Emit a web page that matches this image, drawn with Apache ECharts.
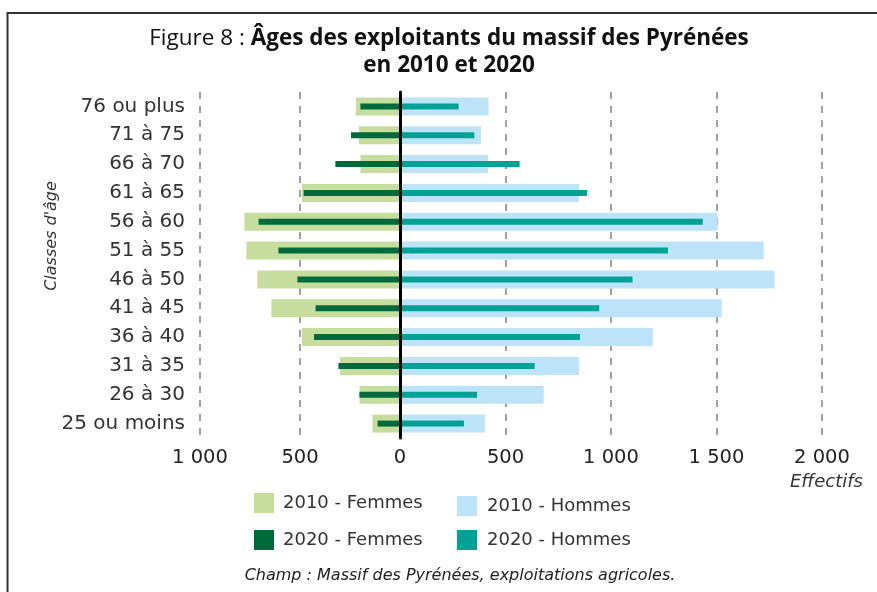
<!DOCTYPE html>
<html>
<head>
<meta charset="utf-8">
<script src="https://cdn.jsdelivr.net/npm/echarts@6/dist/echarts.min.js"></script>
<style>
html,body{margin:0;padding:0;background:#fff;}
#chart{width:877px;height:592px;}
</style>
</head>
<body>
<div id="chart"></div>
<script>
// Data (bottom to top)
const categories = ['25 ou moins','26 à 30','31 à 35','36 à 40','41 à 45','46 à 50','51 à 55','56 à 60','61 à 65','66 à 70','71 à 75','76 ou plus'];
const femmes2010 = [138, 202, 300, 490, 643, 713, 768, 778, 490, 198, 205, 220];
const femmes2020 = [112, 203, 308, 430, 422, 513, 608, 707, 482, 323, 245, 198];
const hommes2010 = [403, 681, 848, 1198, 1525, 1775, 1724, 1505, 848, 417, 384, 420];
const hommes2020 = [303, 365, 638, 853, 944, 1102, 1270, 1435, 887, 567, 352, 278];
const seriesNames = ['2010 - Femmes','2020 - Femmes','2010 - Hommes','2020 - Hommes'];

const FONT = 'DejaVu Sans';
const TFONT = 'Open Sans';
const fmt = v => v >= 1000 ? Math.floor(v/1000) + ' ' + String(v % 1000).padStart(3,'0') : String(v);

const chart = echarts.init(document.getElementById('chart'));
const split = {show:true, lineStyle:{color:'#8a8a8a', width:1.6, type:[7,7]}};
const gridTop = 92, gridH = 346;

chart.setOption({
  animation:false,
  textStyle:{fontFamily:FONT},
  title:{
    left:444, top:20, textAlign:'center',
    text:'{n|Figure 8 : }{b|Âges des exploitants du massif des Pyrénées}\n{b|en 2010 et 2020}',
    textStyle:{
      fontFamily:TFONT, lineHeight:27,
      rich:{
        n:{fontSize:22.5, fontWeight:'normal', color:'#111', fontFamily:TFONT, lineHeight:27},
        b:{fontSize:22.5, fontWeight:'bold', color:'#111', fontFamily:TFONT, lineHeight:27}
      }
    }
  },
  legend:[
    {data:[seriesNames[0], seriesNames[1]], orient:'vertical', left:249, top:488, itemWidth:20, itemHeight:20, itemGap:17, icon:'rect',
     textStyle:{fontSize:18, color:'#333', fontFamily:FONT, padding:[0,0,0,4]}},
    {data:[seriesNames[2], seriesNames[3]], orient:'vertical', left:452, top:491, itemWidth:20, itemHeight:20, itemGap:14, icon:'rect',
     textStyle:{fontSize:18, color:'#333', fontFamily:FONT, padding:[0,0,0,5]}}
  ],
  grid:[
    {left:200, width:200, top:gridTop, height:gridH},
    {left:400, width:422, top:gridTop, height:gridH}
  ],
  xAxis:[
    {gridIndex:0, type:'value', min:0, max:1000, interval:500, inverse:true,
     axisLine:{show:false}, axisTick:{show:false}, splitLine:split,
     axisLabel:{fontSize:19.5, color:'#222', margin:10, formatter:fmt, fontFamily:FONT}},
    {gridIndex:1, type:'value', min:0, max:2000, interval:500,
     axisLine:{show:false}, axisTick:{show:false}, splitLine:split,
     axisLabel:{fontSize:19.5, color:'#222', margin:10, formatter:v => v === 0 ? '' : fmt(v), fontFamily:FONT}}
  ],
  yAxis:[
    {gridIndex:0, type:'category', data:categories, position:'left',
     axisLine:{show:false}, axisTick:{show:false},
     axisLabel:{fontSize:20, color:'#333', margin:15, fontFamily:FONT, padding:[0,0,14,0]}},
    {gridIndex:0, type:'category', data:categories, show:false},
    {gridIndex:1, type:'category', data:categories, position:'left', z:10,
     axisLine:{show:true, lineStyle:{color:'#000', width:3}}, axisTick:{show:false}, axisLabel:{show:false}},
    {gridIndex:1, type:'category', data:categories, show:false}
  ],
  series:[
    {name:seriesNames[0], type:'bar', xAxisIndex:0, yAxisIndex:0, data:femmes2010, barWidth:18, itemStyle:{color:'#c6dd9e'}},
    {name:seriesNames[1], type:'bar', xAxisIndex:0, yAxisIndex:1, data:femmes2020, barWidth:6, itemStyle:{color:'#006b3a'}},
    {name:seriesNames[2], type:'bar', xAxisIndex:1, yAxisIndex:2, data:hommes2010, barWidth:18, itemStyle:{color:'#bde3f8'}},
    {name:seriesNames[3], type:'bar', xAxisIndex:1, yAxisIndex:3, data:hommes2020, barWidth:6, itemStyle:{color:'#00a295'}}
  ],
  graphic:[
    {type:'line', shape:{x1:7, y1:13, x2:877, y2:13}, style:{stroke:'#333', lineWidth:2}, silent:true},
    {type:'line', shape:{x1:7.5, y1:12, x2:7.5, y2:592}, style:{stroke:'#333', lineWidth:2}, silent:true},
    {type:'text', x:52, y:236, rotation:Math.PI/2,
     style:{text:"Classes d'âge", font:'italic 16px "DejaVu Sans"', fill:'#333', align:'center', verticalAlign:'middle'}},
    {type:'text', x:863, y:482,
     style:{text:'Effectifs', font:'italic 18px "DejaVu Sans"', fill:'#333', align:'right', verticalAlign:'middle'}},
    {type:'text', x:460, y:576,
     style:{text:'Champ : Massif des Pyrénées, exploitations agricoles.', font:'italic 16px "DejaVu Sans"', fill:'#222', align:'center', verticalAlign:'middle'}}
  ]
});
</script>
</body>
</html>
